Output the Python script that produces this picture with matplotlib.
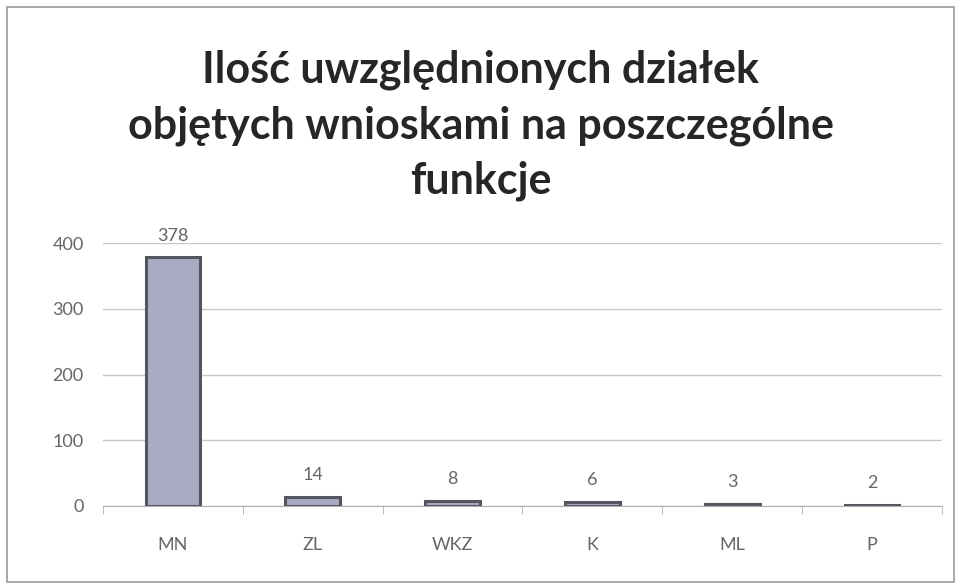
import matplotlib.pyplot as plt
from matplotlib.patches import Rectangle

categories = ['MN', 'ZL', 'WKZ', 'K', 'ML', 'P']
values = [378, 14, 8, 6, 3, 2]
title = 'Ilość uwzględnionych działek\nobjętych wnioskami na poszczególne\nfunkcje'

plt.rcParams['font.family'] = ['Lato', 'DejaVu Sans']

fig = plt.figure(figsize=(9.61, 5.87), dpi=100)
ax = fig.add_axes([103 / 961, (587 - 506) / 587, (942 - 103) / 961, (506 - 243) / 587])

# outer chart frame
fig.patches.append(Rectangle((7 / 961, 5 / 587), 947 / 961, 575 / 587, transform=fig.transFigure,
                             fill=False, edgecolor='#9a9a9a', linewidth=1.2))

x = range(len(categories))
ax.bar(x, values, width=0.39, color='#a9abc2', edgecolor='#55555f', linewidth=2.2)

for i, v in enumerate(values):
    ax.annotate(str(v), (i, v), xytext=(0, 10), textcoords='offset points',
                ha='center', va='bottom', fontsize=13, color='#666666')

ax.set_xlim(-0.5, len(categories) - 0.5)
ax.set_ylim(0, 400)
ax.set_yticks([0, 100, 200, 300, 400])
ax.yaxis.grid(True, color='#c8c8c8', linewidth=1)
ax.set_axisbelow(True)

ax.set_xticks(x)
ax.set_xticklabels(categories)
ax.set_xticks([i + 0.5 for i in range(-1, len(categories))], minor=True)
ax.tick_params(axis='x', which='major', length=0, pad=22, labelsize=13, labelcolor='#666666')
ax.tick_params(axis='x', which='minor', length=6, color='#b0b0b0', direction='out')
ax.tick_params(axis='y', length=0, pad=14, labelsize=13, labelcolor='#666666')

for s in ['top', 'right', 'left']:
    ax.spines[s].set_visible(False)
ax.spines['bottom'].set_color('#b0b0b0')

fig.text(0.5, 1 - 50 / 587, title, ha='center', va='top', fontsize=31,
         fontweight='bold', color='#262626', linespacing=1.45)

fig.savefig('out.png', dpi=100)
